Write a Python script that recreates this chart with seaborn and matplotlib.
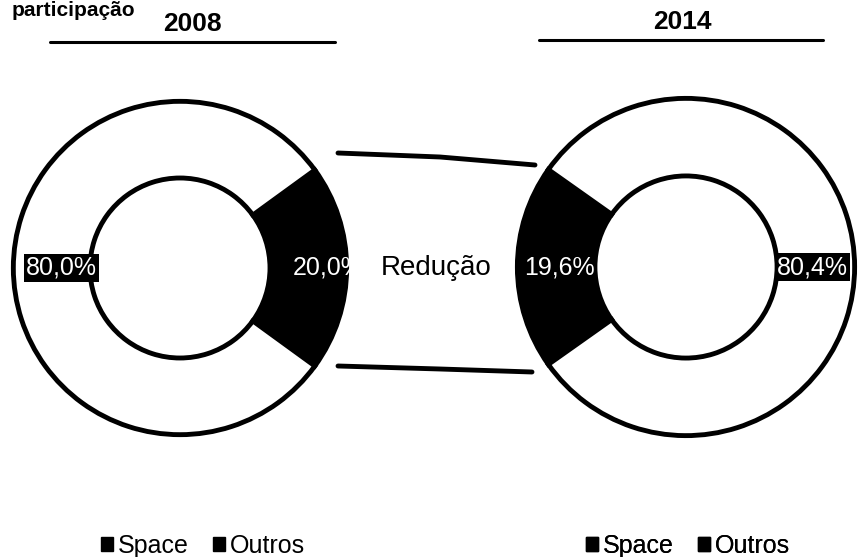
import matplotlib
matplotlib.use('Agg')
import matplotlib.pyplot as plt
import seaborn as sns
from matplotlib.patches import Patch

sns.set_theme(style='white')
plt.rcParams['font.family'] = ['Liberation Sans', 'DejaVu Sans']
plt.rcParams['text.color'] = 'black'

# data
anos = ['2008', '2014']
categorias = ['Space', 'Outros']
space = [20.0, 19.6]
outros = [80.0, 80.4]
cores = ['black', 'white']

W, H = 859, 557
fig = plt.figure(figsize=(W / 100, H / 100), dpi=100)

# overlay axes in pixel coords for lines and free text
bg = fig.add_axes([0, 0, 1, 1])
bg.set_xlim(0, W)
bg.set_ylim(H, 0)
bg.axis('off')


def donut(cx, cy, r, vals, start, lbl_space_left):
    ax = fig.add_axes([(cx - r) / W, (H - cy - r) / H, 2 * r / W, 2 * r / H])
    ax.pie(vals, colors=cores, startangle=start, counterclock=True,
           wedgeprops=dict(width=0.46, edgecolor='black', linewidth=3.5))
    ax.set_xlim(-1.02, 1.02)
    ax.set_ylim(-1.02, 1.02)
    ax.set_aspect('equal')
    mid = 1 - 0.46 / 2
    s = f'{vals[0]:.1f}%'.replace('.', ',')
    o = f'{vals[1]:.1f}%'.replace('.', ',')
    if lbl_space_left:
        ax.text(-mid + 0.02, 0, s, color='white', fontsize=18, ha='center', va='center')
        ax.text(mid - 0.02, 0, o, color='white', fontsize=18, ha='center', va='center',
                bbox=dict(facecolor='black', edgecolor='none', pad=1.5))
    else:
        ax.text(mid + 0.12, 0, s, color='white', fontsize=18, ha='center', va='center')
        ax.text(-mid + 0.06, 0, o, color='white', fontsize=18, ha='center', va='center',
                bbox=dict(facecolor='black', edgecolor='none', pad=1.5))
    return ax


ax1 = donut(180, 268, 170, [space[0], outros[0]], -space[0] / 100 * 180, False)
ax2 = donut(686, 267, 172, [space[1], outros[1]], 180 - space[1] / 100 * 180, True)

# connector between the two Space slices
bg.plot([338, 440, 535], [153, 157, 165], color='black', lw=3.5)
bg.plot([338, 440, 532], [366, 369, 372], color='black', lw=3.5)
bg.text(436, 268, 'Redução', fontsize=20, ha='center', va='center', color='black')

# titles
bg.text(12, 1, 'participação', fontsize=15, fontweight='bold', ha='left', va='top')
bg.text(192, 24, anos[0], fontsize=19, fontweight='bold', ha='center', va='center')
bg.text(682, 22, anos[1], fontsize=19, fontweight='bold', ha='center', va='center')
bg.plot([50, 335], [42, 42], color='black', lw=2.2)
bg.plot([539, 823], [40, 40], color='black', lw=2.2)

# legends
handles = [Patch(facecolor='black', edgecolor='black'), Patch(facecolor='black', edgecolor='black')]
for xc in [203, 688]:
    bg.legend(handles, categorias, loc='center', bbox_to_anchor=(xc / W, 1 - 546 / H),
              bbox_transform=fig.transFigure, ncol=2, frameon=False, fontsize=18,
              handlelength=0.45, handleheight=0.45, handletextpad=0.2, columnspacing=1.0)
    bg.add_artist(bg.get_legend())

fig.savefig('out.png', dpi=100)
